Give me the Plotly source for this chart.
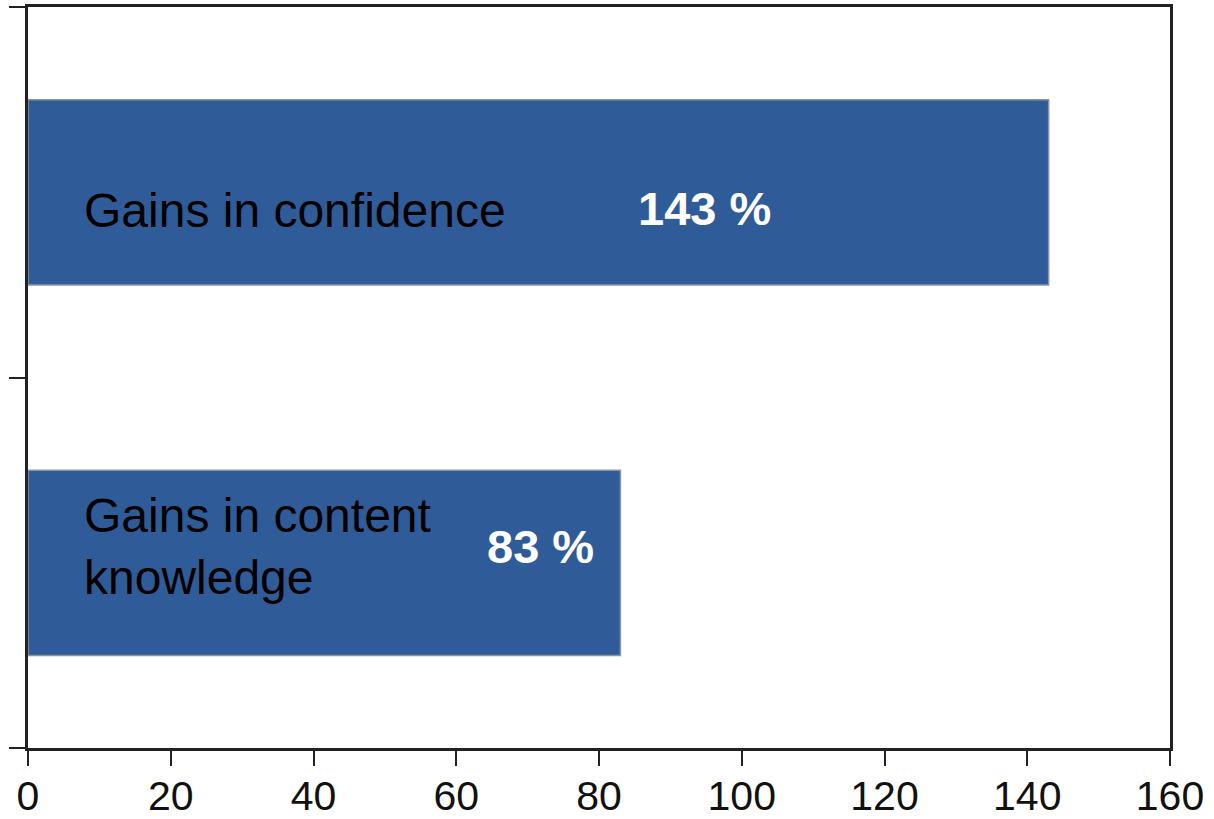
import plotly.graph_objects as go

categories = ["Gains in content knowledge", "Gains in confidence"]
label_lines = ["Gains in content<br>knowledge", "Gains in confidence"]
values = [83, 143]
value_text = ["83 %", "143 %"]
x_ticks = [0, 20, 40, 60, 80, 100, 120, 140, 160]

FONT = "Liberation Sans, Arial, sans-serif"

fig = go.Figure()
fig.add_trace(go.Bar(
    y=categories, x=values, orientation="h",
    marker=dict(color="#2F5C99", line=dict(color="#8a94a6", width=1.5)),
    width=0.5, hoverinfo="skip",
))

label_x = 7.6
value_x = [71.8, 94.8]
for cat, lab, vt, vx in zip(categories, label_lines, value_text, value_x):
    single = "<br>" not in lab
    fig.add_annotation(x=label_x, y=cat, xref="x", yref="y", text=lab,
                       showarrow=False, xanchor="left", align="left",
                       yshift=-18 if single else 16,
                       font=dict(family=FONT, size=48, color="black"))
    fig.add_annotation(x=vx, y=cat, xref="x", yref="y", text=f"<b>{vt}</b>",
                       showarrow=False, xanchor="center",
                       yshift=-16 if single else 16,
                       font=dict(family=FONT, size=47, color="white"))

fig.update_layout(
    width=1214, height=819,
    margin=dict(l=28, r=44, t=7, b=71),
    paper_bgcolor="white", plot_bgcolor="white",
    showlegend=False,
    xaxis=dict(range=[0, 160], tickvals=x_ticks, showgrid=False, zeroline=False,
               automargin=False, ticklabelstandoff=-5,
               showline=True, linecolor="#222", linewidth=3, mirror=True,
               ticks="outside", ticklen=15, tickwidth=2, tickcolor="#222",
               tickfont=dict(family=FONT, size=41, color="#111")),
    yaxis=dict(categoryorder="array", categoryarray=categories,
               range=[-0.5, 1.5], tickson="boundaries", showticklabels=False,
               automargin=False,
               showgrid=False, zeroline=False,
               showline=True, linecolor="#222", linewidth=3, mirror=True,
               ticks="outside", ticklen=16, tickwidth=2, tickcolor="#222"),
)

fig.write_html("out.html")
